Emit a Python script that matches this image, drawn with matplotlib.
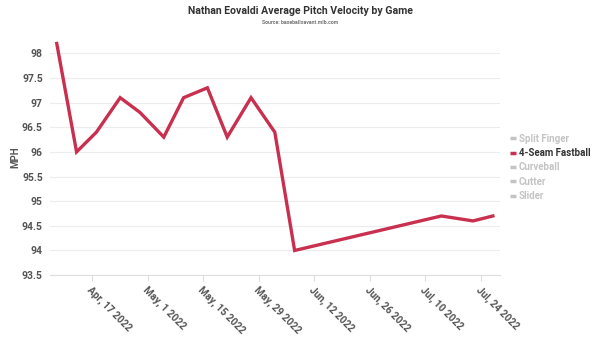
import matplotlib
matplotlib.use("Agg")
import matplotlib.pyplot as plt
from matplotlib.lines import Line2D
import pandas as pd

plt.rcParams['font.family'] = ['Roboto', 'DejaVu Sans']

# Game dates and average four-seam velocity
game_dates = ["2022-04-08", "2022-04-13", "2022-04-18", "2022-04-24", "2022-04-29",
              "2022-05-05", "2022-05-10", "2022-05-16", "2022-05-21", "2022-05-27",
              "2022-06-02", "2022-06-07", "2022-07-14", "2022-07-22", "2022-07-27"]
fastball_mph = [98.2, 96.0, 96.4, 97.1, 96.8, 96.3, 97.1, 97.3, 96.3, 97.1,
                96.4, 94.0, 94.7, 94.6, 94.7]

pitch_types = ["Split Finger", "4-Seam Fastball", "Curveball", "Cutter", "Slider"]
active_pitch = "4-Seam Fastball"

tick_dates = ["2022-04-17", "2022-05-01", "2022-05-15", "2022-05-29",
              "2022-06-12", "2022-06-26", "2022-07-10", "2022-07-24"]
tick_labels = ["Apr, 17 2022", "May, 1 2022", "May, 15 2022", "May, 29 2022",
               "Jun, 12 2022", "Jun, 26 2022", "Jul, 10 2022", "Jul, 24 2022"]
y_ticks = [93.5, 94, 94.5, 95, 95.5, 96, 96.5, 97, 97.5, 98]

RED = "#c9304f"
TICK_COL = "#555555"
GRID_COL = "#ececec"
MUTED = "#c4c4c4"

dates = pd.to_datetime(game_dates)
ticks = pd.to_datetime(tick_dates)

fig = plt.figure(figsize=(6.0, 3.38), dpi=100)
ax = fig.add_axes([0.083, 0.186, 0.75, 0.70])

ax.plot(dates, fastball_mph, color=RED, lw=2.4, solid_joinstyle='miter', zorder=3)

ax.set_xlim(pd.Timestamp("2022-04-06 06:00"), pd.Timestamp("2022-07-28 18:00"))
ax.set_ylim(93.5, 98.3)
ax.set_yticks(y_ticks)
ax.set_yticklabels([f"{v:g}" for v in y_ticks])
ax.set_xticks(ticks)
ax.set_xticklabels(tick_labels, rotation=-45, ha='left', va='top',
                   rotation_mode='anchor')

ax.grid(axis='y', color=GRID_COL, lw=0.8)
ax.set_axisbelow(True)
for s in ['top', 'right', 'left']:
    ax.spines[s].set_visible(False)
ax.spines['bottom'].set_color("#dddddd")
ax.spines['bottom'].set_linewidth(0.8)

ax.tick_params(axis='y', length=0, pad=5, labelsize=7.5, labelcolor=TICK_COL)
ax.tick_params(axis='x', length=4, color="#dddddd", pad=3, labelsize=7.3,
               labelcolor=TICK_COL)
for lab in ax.get_xticklabels() + ax.get_yticklabels():
    lab.set_fontweight('bold')

ax.set_ylabel("MPH", fontsize=7, fontweight='bold', color=TICK_COL, labelpad=1)

fig.text(0.5, 0.967, "Nathan Eovaldi Average Pitch Velocity by Game",
         ha='center', va='center', fontsize=7.6, fontweight='bold', color="#333333")
fig.text(0.5, 0.932, "Source: baseballsavant.mlb.com", ha='center', va='center',
         fontsize=3.8, fontweight='bold', color="#777777")

handles = []
colors = []
for name in pitch_types:
    c = RED if name == active_pitch else MUTED
    handles.append(Line2D([], [], color=c, lw=2.5, solid_capstyle='butt'))
    colors.append("#333333" if name == active_pitch else MUTED)
leg = fig.legend(handles, pitch_types, loc='center left',
                 bbox_to_anchor=(0.843, 0.505), frameon=False, fontsize=7,
                 handlelength=0.6, handletextpad=0.35, labelspacing=0.45,
                 borderaxespad=0)
for txt, c, name in zip(leg.get_texts(), colors, pitch_types):
    txt.set_color(c)
    txt.set_fontweight('bold')

fig.savefig("out.png", dpi=100, facecolor='white')
